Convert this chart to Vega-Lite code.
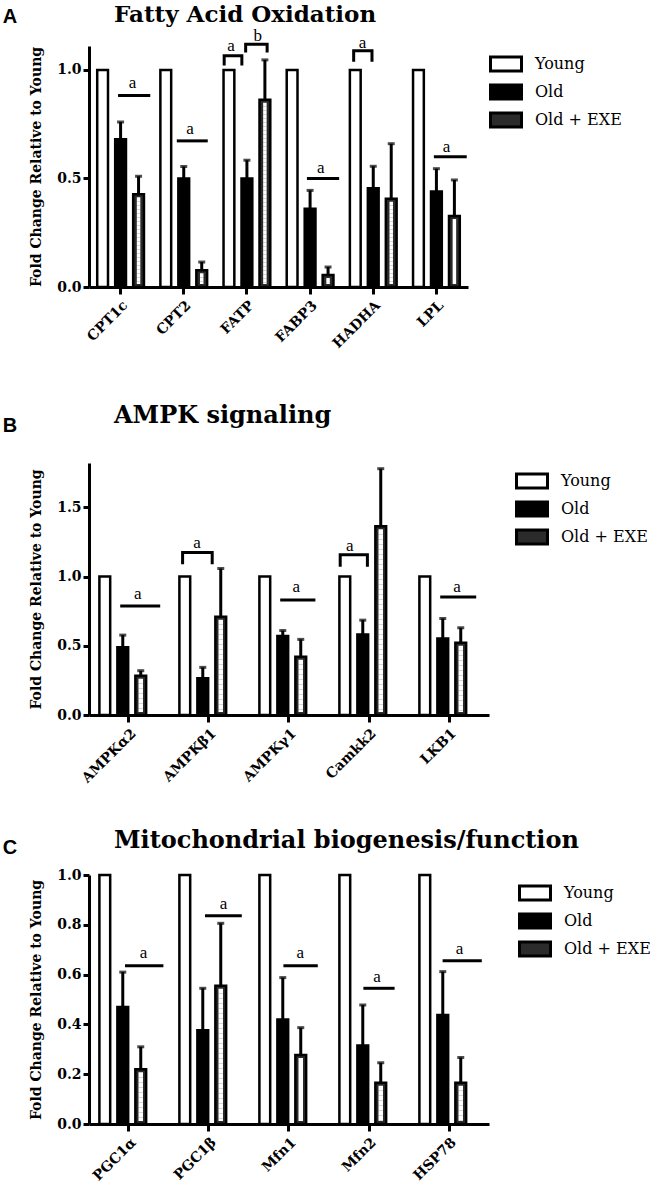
{
  "$schema": "https://vega.github.io/schema/vega-lite/v6.json",
  "background": "white",
  "padding": {"left": 2, "top": 3, "right": 2, "bottom": 2},
  "config": {
    "view": {"stroke": null},
    "axis": {"domainColor": "black", "domainWidth": 3, "tickColor": "black", "tickWidth": 3, "tickSize": 7, "labelColor": "black", "grid": false, "labelFont": "DejaVu Serif", "labelFontWeight": "bold", "labelFontSize": 14, "titleFont": "DejaVu Serif", "titleFontWeight": "bold", "titleFontSize": 14, "titleColor": "black"},
    "axisY": {"tickSize": 6, "labelPadding": 2, "titlePadding": 13},
    "axisX": {"labelAngle": -45, "labelPadding": 4, "title": null},
    "legend": {"title": null, "symbolType": "M-1,-0.45H1V0.45H-1Z", "symbolSize": 961, "symbolStrokeColor": "black", "symbolStrokeWidth": 3, "labelFont": "DejaVu Serif", "labelFontSize": 16, "labelColor": "black", "labelOffset": 12, "offset": 19, "padding": 4, "rowPadding": 0, "clipHeight": 28},
    "title": {"font": "DejaVu Serif", "fontSize": 24, "fontWeight": "bold", "color": "black", "anchor": "start", "frame": "group"}
  },
  "datasets": {
    "A": [
      {"gene": "CPT1c", "group": "Young", "value": 1.0},
      {"gene": "CPT1c", "group": "Old", "value": 0.68, "hi": 0.76},
      {"gene": "CPT1c", "group": "Old + EXE", "value": 0.427, "hi": 0.51},
      {"gene": "CPT2", "group": "Young", "value": 1.0},
      {"gene": "CPT2", "group": "Old", "value": 0.5, "hi": 0.555},
      {"gene": "CPT2", "group": "Old + EXE", "value": 0.077, "hi": 0.115},
      {"gene": "FATP", "group": "Young", "value": 1.0},
      {"gene": "FATP", "group": "Old", "value": 0.5, "hi": 0.584},
      {"gene": "FATP", "group": "Old + EXE", "value": 0.862, "hi": 1.046},
      {"gene": "FABP3", "group": "Young", "value": 1.0},
      {"gene": "FABP3", "group": "Old", "value": 0.36, "hi": 0.445},
      {"gene": "FABP3", "group": "Old + EXE", "value": 0.055, "hi": 0.092},
      {"gene": "HADHA", "group": "Young", "value": 1.0},
      {"gene": "HADHA", "group": "Old", "value": 0.455, "hi": 0.556},
      {"gene": "HADHA", "group": "Old + EXE", "value": 0.407, "hi": 0.66},
      {"gene": "LPL", "group": "Young", "value": 1.0},
      {"gene": "LPL", "group": "Old", "value": 0.44, "hi": 0.545},
      {"gene": "LPL", "group": "Old + EXE", "value": 0.327, "hi": 0.493}
    ],
    "B": [
      {"gene": "AMPKα2", "group": "Young", "value": 1.0},
      {"gene": "AMPKα2", "group": "Old", "value": 0.49, "hi": 0.577},
      {"gene": "AMPKα2", "group": "Old + EXE", "value": 0.283, "hi": 0.32},
      {"gene": "AMPKβ1", "group": "Young", "value": 1.0},
      {"gene": "AMPKβ1", "group": "Old", "value": 0.265, "hi": 0.344},
      {"gene": "AMPKβ1", "group": "Old + EXE", "value": 0.709, "hi": 1.058},
      {"gene": "AMPKγ1", "group": "Young", "value": 1.0},
      {"gene": "AMPKγ1", "group": "Old", "value": 0.57, "hi": 0.61},
      {"gene": "AMPKγ1", "group": "Old + EXE", "value": 0.42, "hi": 0.546},
      {"gene": "Camkk2", "group": "Young", "value": 1.0},
      {"gene": "Camkk2", "group": "Old", "value": 0.582, "hi": 0.685},
      {"gene": "Camkk2", "group": "Old + EXE", "value": 1.363, "hi": 1.779},
      {"gene": "LKB1", "group": "Young", "value": 1.0},
      {"gene": "LKB1", "group": "Old", "value": 0.553, "hi": 0.697},
      {"gene": "LKB1", "group": "Old + EXE", "value": 0.521, "hi": 0.63}
    ],
    "C": [
      {"gene": "PGC1α", "group": "Young", "value": 1.0},
      {"gene": "PGC1α", "group": "Old", "value": 0.47, "hi": 0.61},
      {"gene": "PGC1α", "group": "Old + EXE", "value": 0.22, "hi": 0.31},
      {"gene": "PGC1β", "group": "Young", "value": 1.0},
      {"gene": "PGC1β", "group": "Old", "value": 0.377, "hi": 0.545},
      {"gene": "PGC1β", "group": "Old + EXE", "value": 0.555, "hi": 0.806},
      {"gene": "Mfn1", "group": "Young", "value": 1.0},
      {"gene": "Mfn1", "group": "Old", "value": 0.42, "hi": 0.588},
      {"gene": "Mfn1", "group": "Old + EXE", "value": 0.277, "hi": 0.387},
      {"gene": "Mfn2", "group": "Young", "value": 1.0},
      {"gene": "Mfn2", "group": "Old", "value": 0.315, "hi": 0.478},
      {"gene": "Mfn2", "group": "Old + EXE", "value": 0.166, "hi": 0.246},
      {"gene": "HSP78", "group": "Young", "value": 1.0},
      {"gene": "HSP78", "group": "Old", "value": 0.438, "hi": 0.612},
      {"gene": "HSP78", "group": "Old + EXE", "value": 0.166, "hi": 0.267}
    ],
    "annA": [
      {"id": "A1", "ord": 1, "pos": 0.46, "value": 0.882},
      {"id": "A1", "ord": 2, "pos": 0.97, "value": 0.882},
      {"id": "A2", "ord": 1, "pos": 1.39, "value": 0.673},
      {"id": "A2", "ord": 2, "pos": 1.88, "value": 0.673},
      {"id": "A3", "ord": 1, "pos": 2.14, "value": 1.02},
      {"id": "A3", "ord": 2, "pos": 2.14, "value": 1.065},
      {"id": "A3", "ord": 3, "pos": 2.42, "value": 1.065},
      {"id": "A3", "ord": 4, "pos": 2.42, "value": 1.02},
      {"id": "A4", "ord": 1, "pos": 2.48, "value": 1.08},
      {"id": "A4", "ord": 2, "pos": 2.48, "value": 1.118},
      {"id": "A4", "ord": 3, "pos": 2.82, "value": 1.118},
      {"id": "A4", "ord": 4, "pos": 2.82, "value": 1.08},
      {"id": "A5", "ord": 1, "pos": 3.45, "value": 0.5},
      {"id": "A5", "ord": 2, "pos": 3.96, "value": 0.5},
      {"id": "A6", "ord": 1, "pos": 4.19, "value": 1.037},
      {"id": "A6", "ord": 2, "pos": 4.19, "value": 1.088},
      {"id": "A6", "ord": 3, "pos": 4.48, "value": 1.088},
      {"id": "A6", "ord": 4, "pos": 4.48, "value": 1.037},
      {"id": "A7", "ord": 1, "pos": 5.46, "value": 0.6},
      {"id": "A7", "ord": 2, "pos": 5.98, "value": 0.6}
    ],
    "txtA": [
      {"label": "a", "pos": 0.69, "value": 0.94},
      {"label": "a", "pos": 1.6, "value": 0.728},
      {"label": "a", "pos": 2.25, "value": 1.11},
      {"label": "b", "pos": 2.67, "value": 1.157},
      {"label": "a", "pos": 3.67, "value": 0.55},
      {"label": "a", "pos": 4.33, "value": 1.124},
      {"label": "a", "pos": 5.66, "value": 0.645}
    ],
    "annB": [
      {"id": "B1", "ord": 1, "pos": 0.39, "value": 0.788},
      {"id": "B1", "ord": 2, "pos": 0.89, "value": 0.788},
      {"id": "B2", "ord": 1, "pos": 1.17, "value": 1.089},
      {"id": "B2", "ord": 2, "pos": 1.17, "value": 1.173},
      {"id": "B2", "ord": 3, "pos": 1.54, "value": 1.173},
      {"id": "B2", "ord": 4, "pos": 1.54, "value": 1.089},
      {"id": "B3", "ord": 1, "pos": 2.39, "value": 0.83},
      {"id": "B3", "ord": 2, "pos": 2.83, "value": 0.83},
      {"id": "B4", "ord": 1, "pos": 3.14, "value": 1.07},
      {"id": "B4", "ord": 2, "pos": 3.14, "value": 1.158},
      {"id": "B4", "ord": 3, "pos": 3.48, "value": 1.158},
      {"id": "B4", "ord": 4, "pos": 3.48, "value": 1.07},
      {"id": "B5", "ord": 1, "pos": 4.39, "value": 0.853},
      {"id": "B5", "ord": 2, "pos": 4.84, "value": 0.853}
    ],
    "txtB": [
      {"label": "a", "pos": 0.61, "value": 0.877},
      {"label": "a", "pos": 1.35, "value": 1.24},
      {"label": "a", "pos": 2.59, "value": 0.925},
      {"label": "a", "pos": 3.26, "value": 1.22},
      {"label": "a", "pos": 4.6, "value": 0.924}
    ],
    "annC": [
      {"id": "C1", "ord": 1, "pos": 0.45, "value": 0.636},
      {"id": "C1", "ord": 2, "pos": 0.93, "value": 0.636},
      {"id": "C2", "ord": 1, "pos": 1.45, "value": 0.836},
      {"id": "C2", "ord": 2, "pos": 1.91, "value": 0.836},
      {"id": "C3", "ord": 1, "pos": 2.43, "value": 0.636},
      {"id": "C3", "ord": 2, "pos": 2.86, "value": 0.636},
      {"id": "C4", "ord": 1, "pos": 3.43, "value": 0.545},
      {"id": "C4", "ord": 2, "pos": 3.82, "value": 0.545},
      {"id": "C5", "ord": 1, "pos": 4.42, "value": 0.656},
      {"id": "C5", "ord": 2, "pos": 4.91, "value": 0.656}
    ],
    "txtC": [
      {"label": "a", "pos": 0.68, "value": 0.687},
      {"label": "a", "pos": 1.68, "value": 0.882},
      {"label": "a", "pos": 2.64, "value": 0.687},
      {"label": "a", "pos": 3.6, "value": 0.592},
      {"label": "a", "pos": 4.63, "value": 0.703}
    ]
  },
  "spacing": 43,
  "resolve": {"scale": {"fill": "independent"}, "legend": {"fill": "independent"}},
  "vconcat": [
    {
      "spacing": 53,
      "resolve": {"scale": {"fill": "independent"}, "legend": {"fill": "independent"}},
      "vconcat": [
        {
          "title": {"text": "A", "orient": "left", "anchor": "end", "angle": 0, "align": "right", "baseline": "top", "font": "Liberation Sans", "fontSize": 20, "fontWeight": "bold", "offset": -2, "frame": "bounds", "dy": 3},
          "resolve": {"scale": {"fill": "independent"}, "legend": {"fill": "independent"}},
          "vconcat": [
            {
              "title": {"text": "Fatty Acid Oxidation", "dx": 25, "offset": 0, "fontSize": 23},
              "width": 379, "height": 241,
              "encoding": {"y": {"field": "value", "type": "quantitative", "scale": {"domain": [0, 1.11], "nice": false}, "axis": {"values": [0, 0.5, 1], "format": ".1f", "title": "Fold Change Relative to Young"}}},
              "resolve": {"scale": {"x": "independent"}},
              "layer": [
                {
                  "data": {"name": "A"},
                  "encoding": {
                    "x": {"field": "gene", "type": "nominal", "scale": {"domain": ["CPT1c", "CPT2", "FATP", "FABP3", "HADHA", "LPL"], "paddingInner": 0.26, "paddingOuter": 0.13}},
                    "xOffset": {"field": "group", "type": "nominal", "scale": {"domain": ["Young", "Old", "Old + EXE"], "paddingInner": 0.4, "paddingOuter": 0}}
                  },
                  "layer": [
                    {"mark": {"type": "bar", "stroke": "black", "strokeWidth": 2.5}, "encoding": {"fill": {"field": "group", "type": "nominal", "scale": {"domain": ["Young", "Old", "Old + EXE"], "range": ["white", "black", "#2b2b2b"]}, "legend": {"offset": 12, "encode": {"symbols": {"update": {"stroke": {"value": "black"}, "strokeWidth": {"value": 3}, "fill": [{"test": "datum.label === 'Young'", "value": "white"}, {"test": "datum.label === 'Old'", "value": "black"}, {"value": {"gradient": "linear", "x1": 0, "y1": 0, "x2": 1, "y2": 0, "stops": [{"offset": 0, "color": "#111"}, {"offset": 0.2, "color": "#111"}, {"offset": 0.2, "color": "#ddd"}, {"offset": 0.35, "color": "#ddd"}, {"offset": 0.35, "color": "#111"}, {"offset": 0.5, "color": "#111"}, {"offset": 0.5, "color": "#ddd"}, {"offset": 0.65, "color": "#ddd"}, {"offset": 0.65, "color": "#111"}, {"offset": 1, "color": "#111"}]}}]}}}}}}},
                    {"transform": [{"filter": "datum.group === 'Old + EXE'"}], "mark": {"type": "rule", "color": "white", "strokeWidth": 3.5, "strokeDash": [4, 4], "xOffset": -2, "yOffset": 3, "y2Offset": -3}, "encoding": {"y2": {"datum": 0}}},
                    {"transform": [{"filter": "datum.group === 'Old + EXE'"}], "mark": {"type": "rule", "color": "white", "strokeWidth": 3.5, "strokeDash": [4, 4], "strokeDashOffset": 4, "xOffset": 2, "yOffset": 3, "y2Offset": -3}, "encoding": {"y2": {"datum": 0}}},
                    {"transform": [{"filter": "isValid(datum.hi)"}], "mark": {"type": "rule", "color": "black", "strokeWidth": 3}, "encoding": {"y2": {"field": "hi"}}},
                    {"transform": [{"filter": "isValid(datum.hi)"}], "mark": {"type": "tick", "orient": "horizontal", "color": "black", "size": 7, "thickness": 3}, "encoding": {"y": {"field": "hi", "type": "quantitative"}}}
                  ]
                },
                {
                  "layer": [
                    {"data": {"name": "annA"}, "mark": {"type": "line", "color": "black", "strokeWidth": 3}, "encoding": {"x": {"field": "pos", "type": "quantitative", "scale": {"domain": [0, 6], "nice": false, "zero": false}, "axis": null}, "detail": {"field": "id"}, "order": {"field": "ord"}}},
                    {"data": {"name": "txtA"}, "mark": {"type": "text", "font": "Liberation Serif", "fontSize": 17, "color": "black", "baseline": "middle"}, "encoding": {"x": {"field": "pos", "type": "quantitative", "scale": {"domain": [0, 6], "nice": false, "zero": false}, "axis": null}, "text": {"field": "label"}}}
                  ]
                }
              ]
            }
          ]
        },
        {
          "title": {"text": "B", "orient": "left", "anchor": "end", "angle": 0, "align": "right", "baseline": "top", "font": "Liberation Sans", "fontSize": 20, "fontWeight": "bold", "offset": -2, "frame": "bounds", "dy": 12},
          "resolve": {"scale": {"fill": "independent"}, "legend": {"fill": "independent"}},
          "vconcat": [
            {
              "title": {"text": "AMPK signaling", "dx": 25, "offset": 35},
              "width": 400, "height": 252,
              "encoding": {"y": {"field": "value", "type": "quantitative", "scale": {"domain": [0, 1.82], "nice": false}, "axis": {"values": [0, 0.5, 1, 1.5], "format": ".1f", "title": "Fold Change Relative to Young"}}},
              "resolve": {"scale": {"x": "independent"}},
              "layer": [
                {
                  "data": {"name": "B"},
                  "encoding": {
                    "x": {"field": "gene", "type": "nominal", "scale": {"domain": ["AMPKα2", "AMPKβ1", "AMPKγ1", "Camkk2", "LKB1"], "paddingInner": 0.26, "paddingOuter": 0.13}},
                    "xOffset": {"field": "group", "type": "nominal", "scale": {"domain": ["Young", "Old", "Old + EXE"], "paddingInner": 0.4, "paddingOuter": 0}}
                  },
                  "layer": [
                    {"mark": {"type": "bar", "stroke": "black", "strokeWidth": 2.5}, "encoding": {"fill": {"field": "group", "type": "nominal", "scale": {"domain": ["Young", "Old", "Old + EXE"], "range": ["white", "black", "#2b2b2b"]}, "legend": {"offset": 22, "encode": {"symbols": {"update": {"stroke": {"value": "black"}, "strokeWidth": {"value": 3}, "fill": [{"test": "datum.label === 'Young'", "value": "white"}, {"test": "datum.label === 'Old'", "value": "black"}, {"value": {"gradient": "linear", "x1": 0, "y1": 0, "x2": 1, "y2": 0, "stops": [{"offset": 0, "color": "#111"}, {"offset": 0.2, "color": "#111"}, {"offset": 0.2, "color": "#ddd"}, {"offset": 0.35, "color": "#ddd"}, {"offset": 0.35, "color": "#111"}, {"offset": 0.5, "color": "#111"}, {"offset": 0.5, "color": "#ddd"}, {"offset": 0.65, "color": "#ddd"}, {"offset": 0.65, "color": "#111"}, {"offset": 1, "color": "#111"}]}}]}}}}}}},
                    {"transform": [{"filter": "datum.group === 'Old + EXE'"}], "mark": {"type": "rule", "color": "white", "strokeWidth": 4.5, "strokeDash": [5, 5], "xOffset": -2.6, "yOffset": 3, "y2Offset": -3}, "encoding": {"y2": {"datum": 0}}},
                    {"transform": [{"filter": "datum.group === 'Old + EXE'"}], "mark": {"type": "rule", "color": "white", "strokeWidth": 4.5, "strokeDash": [5, 5], "strokeDashOffset": 5, "xOffset": 2.6, "yOffset": 3, "y2Offset": -3}, "encoding": {"y2": {"datum": 0}}},
                    {"transform": [{"filter": "isValid(datum.hi)"}], "mark": {"type": "rule", "color": "black", "strokeWidth": 3}, "encoding": {"y2": {"field": "hi"}}},
                    {"transform": [{"filter": "isValid(datum.hi)"}], "mark": {"type": "tick", "orient": "horizontal", "color": "black", "size": 7, "thickness": 3}, "encoding": {"y": {"field": "hi", "type": "quantitative"}}}
                  ]
                },
                {
                  "layer": [
                    {"data": {"name": "annB"}, "mark": {"type": "line", "color": "black", "strokeWidth": 3}, "encoding": {"x": {"field": "pos", "type": "quantitative", "scale": {"domain": [0, 5], "nice": false, "zero": false}, "axis": null}, "detail": {"field": "id"}, "order": {"field": "ord"}}},
                    {"data": {"name": "txtB"}, "mark": {"type": "text", "font": "Liberation Serif", "fontSize": 17, "color": "black", "baseline": "middle"}, "encoding": {"x": {"field": "pos", "type": "quantitative", "scale": {"domain": [0, 5], "nice": false, "zero": false}, "axis": null}, "text": {"field": "label"}}}
                  ]
                }
              ]
            }
          ]
        }
      ]
    },
    {
      "title": {"text": "C", "orient": "left", "anchor": "end", "angle": 0, "align": "right", "baseline": "top", "font": "Liberation Sans", "fontSize": 20, "fontWeight": "bold", "offset": -2, "frame": "bounds", "dy": 9},
      "resolve": {"scale": {"fill": "independent"}, "legend": {"fill": "independent"}},
      "vconcat": [
        {
          "title": {"text": "Mitochondrial biogenesis/function", "dx": 25, "offset": 15},
          "width": 400, "height": 249,
          "encoding": {"y": {"field": "value", "type": "quantitative", "scale": {"domain": [0, 1], "nice": false}, "axis": {"values": [0, 0.2, 0.4, 0.6, 0.8, 1], "format": ".1f", "title": "Fold Change Relative to Young"}}},
          "resolve": {"scale": {"x": "independent"}},
          "layer": [
            {
              "data": {"name": "C"},
              "encoding": {
                "x": {"field": "gene", "type": "nominal", "scale": {"domain": ["PGC1α", "PGC1β", "Mfn1", "Mfn2", "HSP78"], "paddingInner": 0.26, "paddingOuter": 0.13}},
                "xOffset": {"field": "group", "type": "nominal", "scale": {"domain": ["Young", "Old", "Old + EXE"], "paddingInner": 0.4, "paddingOuter": 0}}
              },
              "layer": [
                {"mark": {"type": "bar", "stroke": "black", "strokeWidth": 2.5}, "encoding": {"fill": {"field": "group", "type": "nominal", "scale": {"domain": ["Young", "Old", "Old + EXE"], "range": ["white", "black", "#2b2b2b"]}, "legend": {"offset": 25, "encode": {"symbols": {"update": {"stroke": {"value": "black"}, "strokeWidth": {"value": 3}, "fill": [{"test": "datum.label === 'Young'", "value": "white"}, {"test": "datum.label === 'Old'", "value": "black"}, {"value": {"gradient": "linear", "x1": 0, "y1": 0, "x2": 1, "y2": 0, "stops": [{"offset": 0, "color": "#111"}, {"offset": 0.2, "color": "#111"}, {"offset": 0.2, "color": "#ddd"}, {"offset": 0.35, "color": "#ddd"}, {"offset": 0.35, "color": "#111"}, {"offset": 0.5, "color": "#111"}, {"offset": 0.5, "color": "#ddd"}, {"offset": 0.65, "color": "#ddd"}, {"offset": 0.65, "color": "#111"}, {"offset": 1, "color": "#111"}]}}]}}}}}}},
                {"transform": [{"filter": "datum.group === 'Old + EXE'"}], "mark": {"type": "rule", "color": "white", "strokeWidth": 4.5, "strokeDash": [5, 5], "xOffset": -2.6, "yOffset": 3, "y2Offset": -3}, "encoding": {"y2": {"datum": 0}}},
                {"transform": [{"filter": "datum.group === 'Old + EXE'"}], "mark": {"type": "rule", "color": "white", "strokeWidth": 4.5, "strokeDash": [5, 5], "strokeDashOffset": 5, "xOffset": 2.6, "yOffset": 3, "y2Offset": -3}, "encoding": {"y2": {"datum": 0}}},
                {"transform": [{"filter": "isValid(datum.hi)"}], "mark": {"type": "rule", "color": "black", "strokeWidth": 3}, "encoding": {"y2": {"field": "hi"}}},
                {"transform": [{"filter": "isValid(datum.hi)"}], "mark": {"type": "tick", "orient": "horizontal", "color": "black", "size": 7, "thickness": 3}, "encoding": {"y": {"field": "hi", "type": "quantitative"}}}
              ]
            },
            {
              "layer": [
                {"data": {"name": "annC"}, "mark": {"type": "line", "color": "black", "strokeWidth": 3}, "encoding": {"x": {"field": "pos", "type": "quantitative", "scale": {"domain": [0, 5], "nice": false, "zero": false}, "axis": null}, "detail": {"field": "id"}, "order": {"field": "ord"}}},
                {"data": {"name": "txtC"}, "mark": {"type": "text", "font": "Liberation Serif", "fontSize": 17, "color": "black", "baseline": "middle"}, "encoding": {"x": {"field": "pos", "type": "quantitative", "scale": {"domain": [0, 5], "nice": false, "zero": false}, "axis": null}, "text": {"field": "label"}}}
              ]
            }
          ]
        }
      ]
    }
  ]
}
